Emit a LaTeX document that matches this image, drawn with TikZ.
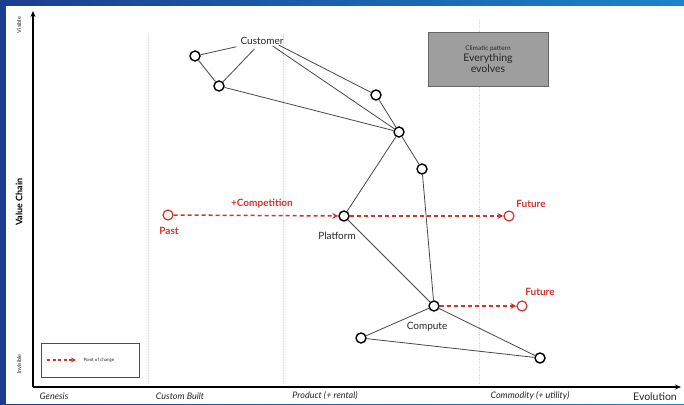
\documentclass[tikz,border=0pt]{standalone}
\usepackage{fontspec}
\setmainfont{Lato}
\usetikzlibrary{arrows.meta}
\definecolor{bgdark}{HTML}{1A3E8E}
\definecolor{bglight}{HTML}{1C84C6}
\definecolor{chg}{HTML}{D0342C}
\definecolor{ink}{HTML}{262626}
\begin{document}
\begin{tikzpicture}[x=1pt,y=-1pt,
  comp/.style={circle,draw=black,fill=white,line width=1.4pt,minimum size=10pt,inner sep=0pt},
  redcomp/.style={circle,draw=chg,fill=white,line width=1.2pt,minimum size=10pt,inner sep=0pt},
  link/.style={draw=ink!85,line width=0.8pt},
  change/.style={draw=chg,line width=1.5pt,dash pattern=on 4pt off 3pt,-{Stealth[length=6pt,width=6pt]}},
  grid/.style={draw=black!14,line width=0.6pt,densely dotted},
  stage/.style={font=\itshape\fontsize{9}{10}\selectfont,text=ink},
  redlbl/.style={font=\bfseries\fontsize{10}{11}\selectfont,text=chg},
  lbl/.style={font=\fontsize{10}{11}\selectfont,text=ink}]
\useasboundingbox (0,0) rectangle (684,404);
% background
\shade[left color=bgdark,right color=bglight] (0,0) rectangle (684,404);
\fill[white] (6,6) rectangle (684,404);
% grid lines
\draw[grid] (148,34) -- (148,384);
\draw[grid] (283,34) -- (283,384);
\draw[grid] (479,20) -- (479,384);
% axes
\coordinate (o) at (33,387);
\coordinate (ytop) at (33,11);
\coordinate (xend) at (681,387);
\draw[line width=1.2pt,-{Stealth[length=6pt,width=5pt]}] (o) -- (ytop);
\draw[line width=1.2pt,-{Stealth[length=6pt,width=5pt]}] (o) -- (xend);
% axis labels
\node[rotate=90,font=\fontsize{5.5}{6}\selectfont,text=ink] (vis) at (19,25) {Visible};
\node[rotate=90,font=\bfseries\fontsize{9}{10}\selectfont] (vc) at (19,202) {Value Chain};
\node[rotate=90,font=\fontsize{5.5}{6}\selectfont,text=ink] (invis) at (19,364) {Invisible};
\node[stage] (gen) at (54,396) {Genesis};
\node[stage] (cus) at (180,396) {Custom Built};
\node[stage] (prod) at (325,396) {Product (+ rental)};
\node[stage] (comm) at (530,396) {Commodity (+ utility)};
\node[font=\fontsize{10.5}{12}\selectfont,text=ink] (evo) at (655,397) {Evolution};
% climatic pattern box
\node[draw=black!60,fill=black!38,line width=0.8pt,minimum width=120pt,minimum height=54pt,
      align=center,text=black!85] (clim) at (488,59)
  {{\fontsize{6.5}{8}\selectfont Climatic pattern}\\[-1pt]{\fontsize{10.5}{13}\selectfont Everything}\\[-1pt]{\fontsize{10.5}{13}\selectfont evolves}};
% legend
\node[draw=black!70,line width=0.6pt,minimum width=98pt,minimum height=34pt] (leg) at (90.5,360.5) {};
\coordinate (la) at (47,360);
\coordinate (lb) at (76,360);
\draw[change,line width=1.2pt,dash pattern=on 3pt off 2.5pt,-{Stealth[length=5pt,width=5pt]}] (la) -- (lb);
\node[font=\fontsize{4.5}{5}\selectfont,text=ink,anchor=west] (lt) at (80,360) {Point of change};
% components
\node[lbl,inner sep=4pt] (cust) at (262,41) {Customer};
\node[comp] (a) at (195,56) {};
\node[comp] (b) at (219,86) {};
\node[comp] (c) at (376,95) {};
\node[comp] (d) at (399,132) {};
\node[comp] (e) at (422,169) {};
\node[comp] (plat) at (344,216) {};
\node[comp] (comp) at (434,306) {};
\node[comp] (f) at (361,338) {};
\node[comp] (g) at (540,358) {};
\node[lbl] (platl) at (337,236) {Platform};
\node[lbl] (compl) at (427,327) {Compute};
% links
\draw[link] (a) -- (cust);
\draw[link] (b) -- (cust);
\path (cust.east) ++(-9,4) coordinate (cs1);
\path (cust.east) ++(-15,5) coordinate (cs2);
\draw[link] (cs1) -- (c);
\draw[link] (cs2) -- (d);
\draw[link] (a) -- (b);
\draw[link] (b) -- (d);
\draw[link] (c) -- (d);
\draw[link] (d) -- (plat);
\draw[link] (d) -- (e);
\draw[link] (e) -- (comp);
\draw[link] (plat) -- (comp);
\draw[link] (comp) -- (f);
\draw[link] (comp) -- (g);
\draw[link] (f) -- (g);
% points of change
\node[redcomp] (past) at (168,215) {};
\node[redcomp] (fut1) at (509,216) {};
\node[redcomp] (fut2) at (522,306) {};
\node[redlbl] (pastl) at (169,231) {Past};
\node[redlbl] (fut1l) at (531,204) {Future};
\node[redlbl] (fut2l) at (540,292) {Future};
\node[redlbl] (compet) at (262,204) {+Competition};
\draw[change] (past) -- (plat);
\draw[change] (plat) -- (fut1);
\draw[change] (comp) -- (fut2);
\end{tikzpicture}
\end{document}
